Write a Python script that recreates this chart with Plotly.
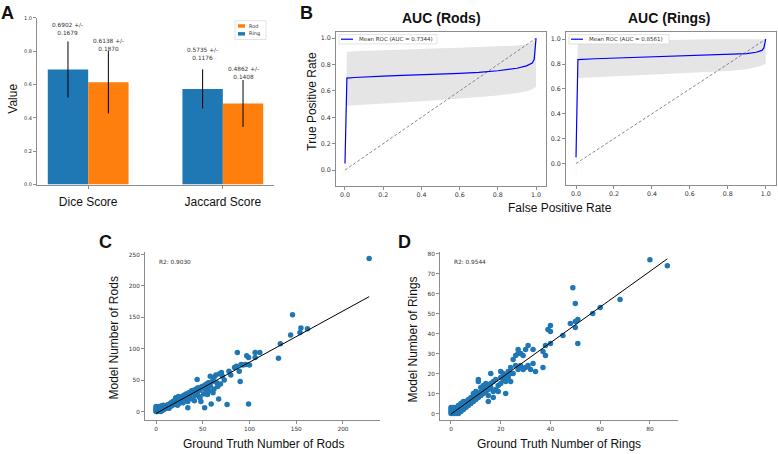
import plotly.graph_objects as go

W, H = 778, 454

# ---------------- Panel A data ----------------
metrics = ["Dice Score", "Jaccard Score"]
ring_mean = [0.6902, 0.5735]
ring_std = [0.1679, 0.1176]
rod_mean = [0.6138, 0.4862]
rod_std = [0.1870, 0.1408]
bar_yticks = [0.0, 0.2, 0.4, 0.6, 0.8, 1.0]

# ---------------- Panel B data ----------------
rods_fpr = [0.0, 0.01, 0.05, 0.1, 0.2, 0.3, 0.4, 0.5, 0.6, 0.7, 0.8, 0.9, 0.95, 0.98, 0.99, 1.0]
rods_tpr = [0.05, 0.697, 0.702, 0.707, 0.713, 0.718, 0.722, 0.727, 0.733, 0.741, 0.753, 0.772, 0.79, 0.812, 0.838, 1.0]
rods_upper = [0.16, 0.898, 0.901, 0.904, 0.909, 0.914, 0.918, 0.923, 0.928, 0.933, 0.938, 0.944, 0.952, 0.965, 0.978, 1.0]
rods_lower = [-0.06, 0.488, 0.492, 0.497, 0.505, 0.513, 0.522, 0.531, 0.541, 0.552, 0.565, 0.585, 0.598, 0.612, 0.625, 0.63]
rods_auc = 0.7344

rings_fpr = [0.0, 0.01, 0.1, 0.2, 0.3, 0.4, 0.5, 0.6, 0.7, 0.8, 0.9, 0.95, 0.98, 0.99, 1.0]
rings_tpr = [0.05, 0.836, 0.843, 0.848, 0.853, 0.858, 0.862, 0.866, 0.870, 0.876, 0.884, 0.895, 0.91, 0.93, 1.0]
rings_upper = [0.26, 0.978, 0.982, 0.986, 0.99, 0.993, 0.996, 0.999, 1.0, 1.0, 1.0, 1.0, 1.0, 1.0, 1.0]
rings_lower = [-0.15, 0.688, 0.695, 0.702, 0.709, 0.716, 0.722, 0.729, 0.736, 0.745, 0.758, 0.772, 0.786, 0.798, 0.80]
rings_auc = 0.8561

chance = [0.0, 1.0]
roc_ticks = [0.0, 0.2, 0.4, 0.6, 0.8, 1.0]

# ---------------- Panel C data ----------------
rods_gt = [0, 0, 0, 0, 0, 1, 1, 1, 1, 2, 2, 2, 2, 3, 3, 3, 3, 4, 4, 4, 5, 5, 5, 6, 6, 6, 7, 7, 8, 8, 8,
           9, 9, 10, 10, 11, 11, 12, 12, 13, 13, 14, 14, 15, 15, 16, 16, 17, 18, 18, 19, 20, 20, 21, 21,
           22, 22, 23, 23, 24, 24, 25, 25, 26, 27, 28, 28, 29, 30, 30, 31, 32, 33, 34, 34, 35, 36, 37,
           38, 39, 40, 41, 42, 43, 44, 44, 45, 46, 47, 47, 48, 49, 50, 51, 52, 52, 53, 54, 55, 55, 56,
           57, 58, 58, 59, 60, 61, 62, 62, 64, 65, 66, 67, 68, 69, 70, 71, 73, 76, 78, 80, 84, 86, 87,
           89, 90, 91, 93, 96, 97, 99, 99, 100, 106, 106, 111, 131, 133, 144, 146, 154, 155, 162, 228]
rods_model = [0, 2, 5, 8, 1, 1, 3, 0, 5, 6, 2, 0, 4, 4, 1, 8, 6, 2, 5, 7, 3, 0, 7, 4, 9, 1, 2, 5, 6, 3, 10,
              8, 4, 6, 9, 5, 8, 10, 6, 7, 11, 9, 5, 12, 8, 10, 14, 9, 13, 16, 11, 15, 18, 12, 22,
              17, 14, 20, 10, 16, 24, 19, 13, 22, 17, 24, 20, 14, 26, 21, 18, 28, 25, 6, 16, 30, 22, 28,
              33, 20, 34, 17, 26, 36, 30, 51, 38, 24, 34, 22, 16, 40, 38, 28, 6, 42, 35, 44, 27, 39, 46,
              33, 41, 56, 12, 48, 30, 54, 36, 58, 46, 40, 20, 60, 44, 62, 56, 50, 11, 64, 58, 70, 72, 94,
              64, 48, 75, 74, 75, 89, 86, 12, 74, 94, 86, 94, 85, 108, 122, 154, 126, 133, 132, 244]
rods_fit_x = [0, 228]
rods_fit_y = [-3, 183]
rods_r2 = 0.9030

# ---------------- Panel D data ----------------
rings_gt = [0, 0, 0, 0, 1, 1, 1, 1, 2, 2, 2, 2, 3, 3, 3, 3, 3, 4, 4, 4, 4, 5, 5, 5, 5, 6, 6, 6, 7, 7, 7,
            8, 8, 8, 9, 9, 9, 10, 10, 10, 11, 11, 11, 11, 12, 12, 12, 13, 13, 13, 14, 14, 14, 15, 15, 15,
            15, 16, 16, 16, 17, 17, 17, 18, 18, 19, 19, 20, 20, 20, 21, 21, 22, 22, 22, 23, 23, 24, 24,
            24, 25, 25, 26, 26, 27, 27, 27, 28, 28, 29, 29, 30, 30, 31, 31, 32, 33, 33, 34, 37, 37, 38,
            38, 39, 40, 40, 40, 45, 48, 49, 50, 50, 50, 51, 51, 57, 60, 68, 80, 87]
rings_model = [0, 1, 2, 3, 0, 1, 2, 3, 0, 1, 2, 3, 0, 1, 2, 3, 4, 1, 2, 3, 5, 2, 3, 4, 6, 3, 5, 6, 4, 6, 7,
               5, 7, 8, 6, 8, 10, 7, 9, 11, 8, 10, 16, 17, 9, 11, 13, 10, 12, 14, 11, 13, 15, 12, 6, 14,
               9, 13, 20, 15, 8, 11, 16, 12, 17, 14, 11, 15, 21, 18, 17, 20, 10, 16, 19, 18, 21, 16, 20,
               23, 27, 20, 24, 29, 22, 30, 32, 24, 30, 22, 29, 23, 32, 24, 34, 22, 25, 32, 21, 23, 31, 29,
               34, 42, 41, 44, 35, 39, 45, 63, 55, 46, 43, 47, 35, 50, 53, 57, 77, 74]
rings_fit_x = [0, 87]
rings_fit_y = [-0.3, 77.4]
rings_r2 = 0.9544

# ---------------- styling ----------------
BLUE = "#1f77b4"
ORANGE = "#ff7f0e"
SPINE = "#8c8c8c"
TICKC = "#333333"
SANS = "Liberation Sans, Arial, sans-serif"
SMALL = "DejaVu Sans, sans-serif"


def px(x):
    return x / W


def py(y):
    return 1 - y / H


fig = go.Figure()

# Panel A bars
fig.add_trace(go.Bar(x=[0, 1], y=ring_mean, name="Ring", marker=dict(color=BLUE, line=dict(width=0)),
                     error_y=dict(type="data", array=ring_std, color="black", thickness=1, width=0),
                     xaxis="x", yaxis="y", showlegend=False))
fig.add_trace(go.Bar(x=[0, 1], y=rod_mean, name="Rod", marker=dict(color=ORANGE, line=dict(width=0)),
                     error_y=dict(type="data", array=rod_std, color="black", thickness=1, width=0),
                     xaxis="x", yaxis="y", showlegend=False))

# Panel B ROC
for fpr, tpr, up, lo, xa, ya in [(rods_fpr, rods_tpr, rods_upper, rods_lower, "x2", "y2"),
                                  (rings_fpr, rings_tpr, rings_upper, rings_lower, "x3", "y3")]:
    fig.add_trace(go.Scatter(x=fpr, y=lo, mode="lines", line=dict(width=0, color="rgba(0,0,0,0)"),
                             xaxis=xa, yaxis=ya, showlegend=False, hoverinfo="skip"))
    fig.add_trace(go.Scatter(x=fpr, y=up, mode="lines", line=dict(width=0, color="rgba(0,0,0,0)"),
                             fill="tonexty", fillcolor="rgba(150,150,150,0.25)",
                             xaxis=xa, yaxis=ya, showlegend=False, hoverinfo="skip"))
    fig.add_trace(go.Scatter(x=chance, y=chance, mode="lines",
                             line=dict(color="rgba(110,110,110,0.9)", width=0.9, dash="3px,2px"),
                             xaxis=xa, yaxis=ya, showlegend=False))
    fig.add_trace(go.Scatter(x=fpr, y=tpr, mode="lines", line=dict(color="#0000ff", width=1.2),
                             xaxis=xa, yaxis=ya, showlegend=False))

# Panel C / D scatter
for gx, gy, fx, fy, xa, ya in [(rods_gt, rods_model, rods_fit_x, rods_fit_y, "x4", "y4"),
                                (rings_gt, rings_model, rings_fit_x, rings_fit_y, "x5", "y5")]:
    fig.add_trace(go.Scatter(x=gx, y=gy, mode="markers", marker=dict(color=BLUE, size=5.5, line=dict(width=0)),
                             xaxis=xa, yaxis=ya, showlegend=False))
    fig.add_trace(go.Scatter(x=fx, y=fy, mode="lines", line=dict(color="black", width=1),
                             xaxis=xa, yaxis=ya, showlegend=False))


def axis(domain, rng, tickvals, fontsize, anchor, mirror=False, tickformat=None, ticktext=None,
         tickfont=None, standoff=None):
    d = dict(domain=domain, range=rng, tickvals=tickvals, anchor=anchor,
             showline=True, linecolor=SPINE, linewidth=1, mirror=mirror,
             ticks="outside", ticklen=3, tickwidth=0.8, tickcolor=SPINE,
             showgrid=False, zeroline=False,
             tickfont=tickfont or dict(size=fontsize, family=SMALL, color=TICKC))
    if tickformat:
        d["tickformat"] = tickformat
    if ticktext:
        d["ticktext"] = ticktext
    if standoff is not None:
        d["ticklabelstandoff"] = standoff
    return d


layout = dict(
    width=W, height=H, margin=dict(l=0, r=0, t=0, b=0),
    paper_bgcolor="white", plot_bgcolor="white",
    barmode="group", bargap=0.4, bargroupgap=0,
    showlegend=False,
    xaxis=axis([px(37), px(274)], [-0.38, 1.38], [0, 1], 12, "y", ticktext=metrics,
               tickfont=dict(size=12, family=SANS, color="#111"), standoff=3),
    yaxis=axis([py(184), py(15)], [0, 1.0], bar_yticks, 5, "x", tickformat=".1f"),
    xaxis2=axis([px(336), px(546)], [-0.047, 1.052], roc_ticks, 6.3, "y2", mirror=True, tickformat=".1f"),
    yaxis2=axis([py(185), py(29)], [-0.1175, 1.05], roc_ticks, 6.3, "x2", mirror=True, tickformat=".1f"),
    xaxis3=axis([px(566), px(776)], [-0.0527, 1.054], roc_ticks, 6.3, "y3", mirror=True, tickformat=".1f"),
    yaxis3=axis([py(184), py(29)], [-0.169, 1.061], roc_ticks, 6.3, "x3", mirror=True, tickformat=".1f"),
    xaxis4=axis([px(145), px(380)], [-11.8, 239.6], [0, 50, 100, 150, 200], 5.8, "y4"),
    yaxis4=axis([py(423), py(252)], [-14.2, 254.7], [0, 50, 100, 150, 200, 250], 5.8, "x4"),
    xaxis5=axis([px(440), px(678)], [-4.42, 91.3], [0, 20, 40, 60, 80], 5.8, "y5"),
    yaxis5=axis([py(423), py(252)], [-3.46, 81.0], [0, 10, 20, 30, 40, 50, 60, 70, 80], 5.8, "x5"),
)
fig.update_layout(**layout)

ann = []


def text(x, y, s, size, family=SANS, bold=False, angle=0, xanchor="center", color="#111"):
    if bold:
        s = "<b>" + s + "</b>"
    ann.append(dict(x=px(x), y=py(y), xref="paper", yref="paper", text=s, showarrow=False,
                    font=dict(size=size, family=family, color=color), textangle=angle,
                    xanchor=xanchor, yanchor="middle"))


# Panel letters
text(8, 10, "A", 18, bold=True)
text(306, 10, "B", 18, bold=True)
text(106, 242, "C", 18, bold=True)
text(404, 242, "D", 18, bold=True)

# Axis labels
text(13, 97, "Value", 12, angle=-90)
text(312, 100, "True Positive Rate", 12, angle=-90)
text(560, 208, "False Positive Rate", 12)
text(114, 340, "Model Number of Rods", 12, angle=-90)
text(263, 447, "Ground Truth Number of Rods", 12)
text(413, 341, "Model Number of Rings", 12, angle=-90)
text(559, 447, "Ground Truth Number of Rings", 12)

# Titles
text(441, 15, "AUC (Rods)", 14, bold=True)
text(669, 15, "AUC (Rings)", 14, bold=True)

# R2
ann.append(dict(x=0.051, y=0.94, xref="x4 domain", yref="y4 domain", text=f"R2: {rods_r2:.4f}",
                showarrow=False, xanchor="left", yanchor="middle",
                font=dict(size=5.8, family=SMALL, color=TICKC)))
ann.append(dict(x=0.05, y=0.936, xref="x5 domain", yref="y5 domain", text=f"R2: {rings_r2:.4f}",
                showarrow=False, xanchor="left", yanchor="middle",
                font=dict(size=5.8, family=SMALL, color=TICKC)))

# Bar value labels
label_y = [[0.935, 0.784], [0.836, 0.67]]
for k, (means, stds, off) in enumerate([(ring_mean, ring_std, -0.15), (rod_mean, rod_std, 0.15)]):
    for i in range(len(metrics)):
        ann.append(dict(x=i + off, y=label_y[k][i], xref="x", yref="y",
                        text=f"{means[i]:.4f} +/-<br>{stds[i]:.4f}", showarrow=False,
                        xanchor="center", yanchor="middle",
                        font=dict(size=5.8, family=SMALL, color=TICKC)))

# Legends (manual)
shapes = []


def rect(x0, y0, x1, y1, fill, line="rgba(0,0,0,0)", lw=0):
    shapes.append(dict(type="rect", xref="paper", yref="paper", x0=px(x0), x1=px(x1), y0=py(y1), y1=py(y0),
                       fillcolor=fill, line=dict(color=line, width=lw)))


rect(235, 18, 266, 37, "white", "#d0d0d0", 0.6)
rect(238, 21.5, 245, 25, ORANGE)
rect(238, 29.5, 245, 33, BLUE)
text(247, 23.3, "Rod", 5, family=SMALL, xanchor="left", color=TICKC)
text(247, 31.4, "Ring", 5, family=SMALL, xanchor="left", color=TICKC)

for bx0, bx1, lx0, lx1, tx, auc in [(339, 437, 341, 353, 357, rods_auc), (569, 669, 571, 583, 587, rings_auc)]:
    rect(bx0, 32, bx1, 41.5, "white", "#d0d0d0", 0.6)
    shapes.append(dict(type="line", xref="paper", yref="paper", x0=px(lx0), x1=px(lx1), y0=py(36.7), y1=py(36.7),
                       line=dict(color="#0000ff", width=1.2)))
    text(tx, 36.7, f"Mean ROC (AUC = {auc:.4f})", 5.5, family=SMALL, xanchor="left", color=TICKC)

fig.update_layout(annotations=ann, shapes=shapes)
fig.write_html("out.html")
